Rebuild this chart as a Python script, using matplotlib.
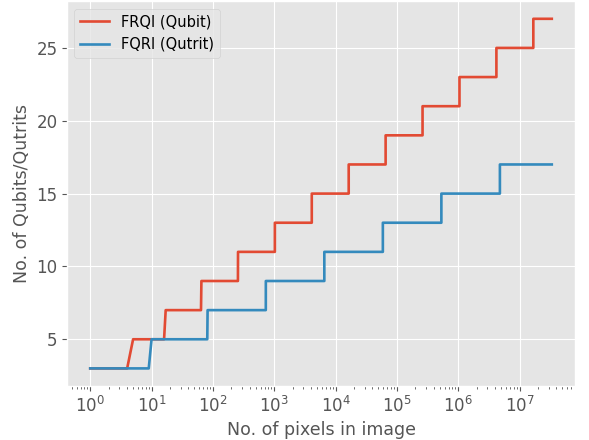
import matplotlib
matplotlib.use('Agg')
import matplotlib.pyplot as plt

# step breakpoints (image size vs. register size)
frqi_pixels = [1, 4, 5, 16, 17, 64, 65, 256, 257, 1024, 1025, 4096, 4097,
               16384, 16385, 65536, 65537, 262144, 262145, 1048576, 1048577,
               4194304, 4194305, 16777216, 16777217, 33554432]
frqi_qubits = [3, 3, 5, 5, 7, 7, 9, 9, 11, 11, 13, 13, 15,
               15, 17, 17, 19, 19, 21, 21, 23,
               23, 25, 25, 27, 27]

fqri_pixels = [1, 9, 10, 81, 82, 729, 730, 6561, 6562, 59049, 59050,
               531441, 531442, 4782969, 4782970, 33554432]
fqri_qutrits = [3, 3, 5, 5, 7, 7, 9, 9, 11, 11, 13,
                13, 15, 15, 17, 17]

plt.style.use('ggplot')
fig, ax = plt.subplots(figsize=(5.89, 4.4), dpi=100)
fig.subplots_adjust(left=0.114, right=0.976, top=0.997, bottom=0.123)

ax.plot(frqi_pixels, frqi_qubits, linewidth=1.9, label='FRQI (Qubit)')
ax.plot(fqri_pixels, fqri_qutrits, linewidth=1.9, label='FQRI (Qutrit)')
ax.set_xscale('log')

ax.tick_params(axis='both', which='major', labelsize=12)
ax.set_xlabel('No. of pixels in image', fontsize=12.5)
ax.set_ylabel('No. of Qubits/Qutrits', fontsize=12.5)
ax.legend(loc='upper left', fontsize=10.5)

plt.savefig('out.png', dpi=100)
plt.close()
